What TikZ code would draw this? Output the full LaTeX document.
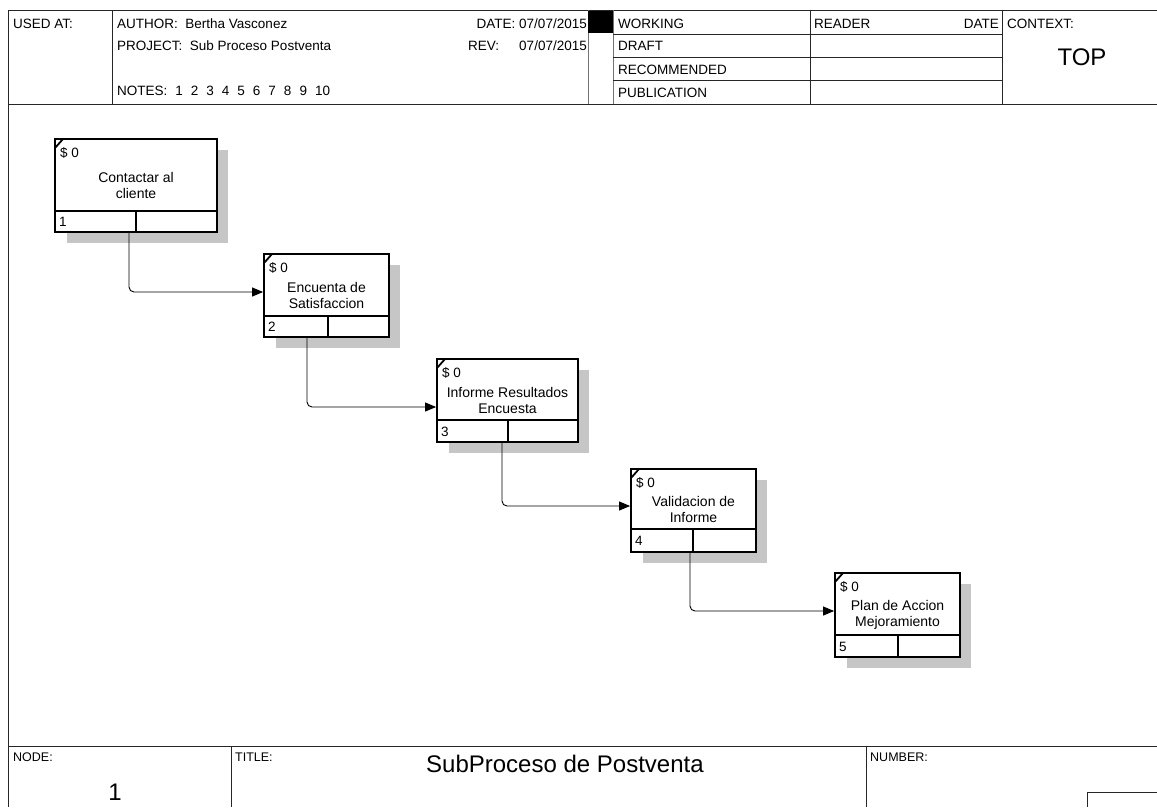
\documentclass[tikz,border=0pt]{standalone}
\usepackage{fontspec}
\setmainfont{Liberation Sans}
\usetikzlibrary{arrows.meta,fit}

\tikzset{
  frame/.style={line width=1pt, draw=black!85},
  thinframe/.style={line width=0.9pt, draw=black!55},
  abox/.style={draw, line width=1.8pt, inner sep=0pt, fill=white},
  aline/.style={line width=1.8pt},
  shade/.style={fill=gray!45},
  hdr/.style={font=\fontsize{13.5}{15}\selectfont, inner sep=0pt, anchor=base west},
  hdre/.style={font=\fontsize{13.5}{15}\selectfont, inner sep=0pt, anchor=base east},
  ftr/.style={font=\fontsize{12.5}{14}\selectfont, inner sep=0pt, anchor=base west},
  boxtxt/.style={font=\fontsize{14}{16}\selectfont, align=center, inner sep=0pt},
  btxt/.style={font=\fontsize{13.5}{15}\selectfont, inner sep=0pt, anchor=base west},
  conn/.style={line width=0.9pt, rounded corners=5pt, -{Triangle[length=11pt,width=9pt]}},
}

% name, left, top, right, bottom, lineY, dividerX, text, number
\newcommand\idefbox[9]{%
  \fill[shade] ({#2+12},{#3+11}) rectangle ({#4+11},{#5+11});
  \coordinate (#1nw) at (#2,#3);
  \coordinate (#1se) at (#4,#5);
  \node[abox, fit=(#1nw)(#1se)] (#1) {};
  \draw[aline] (#2,#6) -- (#4,#6);
  \draw[aline] (#7,#6) -- (#7,#5);
  \draw[aline] (#2,{#3+9}) -- ({#2+8},#3);
  \node[boxtxt] (#1t) at ({(#2+#4)/2},{(#3+#6)/2+10.5}) {#8};
  \node[btxt] (#1c) at ({#2+5},{#3+18}) {\$ 0};
  \node[btxt] (#1n) at ({#2+4},{(#6+#5)/2+5}) {#9};
}

\begin{document}
\begin{tikzpicture}[x=1pt,y=-1pt]
\useasboundingbox (0,0) rectangle (1157,807);
\fill[white] (0,0) rectangle (1157,807);

% ---------- header frame ----------
\draw[frame] (8,10) -- (1157,10);
\draw[frame] (8,104) -- (1157,104);
\draw[frame] (8,10) -- (8,807);
\draw[frame] (112,10) -- (112,104);
\draw[thinframe] (588,10) -- (588,104);
\draw[thinframe, line width=1.6pt] (613.5,10) -- (613.5,104);
\draw[frame] (810,10) -- (810,104);
\draw[frame] (1002,10) -- (1002,104);
\draw[frame] (613,34) -- (1002,34);
\draw[frame] (613,57) -- (1002,57);
\draw[frame] (613,80) -- (1002,80);
\fill[black] (588,11) rectangle (613,33);

% ---------- header texts ----------
\node[hdr] (usedat) at (13,28) {USED AT:};
\node[hdr] (author) at (117,28) {AUTHOR:\ \ Bertha Vasconez};
\node[hdr] (project) at (117,50) {PROJECT:\ \ Sub Proceso Postventa};
\node[hdr] (notes) at (117,95) {NOTES:\hspace{8pt}1\hspace{8pt}2\hspace{8pt}3\hspace{8pt}4\hspace{8pt}5\hspace{8pt}6\hspace{8pt}7\hspace{8pt}8\hspace{8pt}9\hspace{8pt}10};
\node[hdre] (date) at (587,28) {DATE: 07/07/2015};
\node[hdr] (rev) at (468,50) {REV:};
\node[hdre] (revdate) at (587,50) {07/07/2015};
\node[hdr] (working) at (618,28) {WORKING};
\node[hdr] (draft) at (618,50) {DRAFT};
\node[hdr] (recom) at (618,74) {RECOMMENDED};
\node[hdr] (publ) at (618,97) {PUBLICATION};
\node[hdr] (reader) at (814,28) {READER};
\node[hdre] (rdate) at (999,28) {DATE};
\node[hdr] (context) at (1007,28) {CONTEXT:};
\node[font=\fontsize{24}{26}\selectfont, inner sep=0pt, anchor=base] (top) at (1082,65) {TOP};

% ---------- footer ----------
\draw[frame] (8,746) -- (1157,746);
\draw[frame] (231,746) -- (231,807);
\draw[frame] (866,746) -- (866,807);
\draw[frame] (1087,807) -- (1087,792) -- (1157,792);
\node[ftr] (nodelbl) at (13,761) {NODE:};
\node[ftr] (titlelbl) at (235,761) {TITLE:};
\node[ftr] (numberlbl) at (870,761) {NUMBER:};
\node[font=\fontsize{24}{26}\selectfont, inner sep=0pt, anchor=base] (nodenum) at (115,800) {1};
\node[font=\fontsize{24}{26}\selectfont, inner sep=0pt, anchor=base west] (title) at (426,772) {SubProceso de Postventa};

% ---------- activity boxes ----------
\idefbox{b1}{55}{139}{217}{232}{211}{136}{Contactar al\\cliente}{1}
\idefbox{b2}{264}{254}{389}{337}{316}{328}{Encuenta de\\Satisfaccion}{2}
\idefbox{b3}{437}{359}{578}{442}{420}{508}{Informe Resultados\\Encuesta}{3}
\idefbox{b4}{631}{469}{756}{552}{529}{693}{Validacion de\\Informe}{4}
\idefbox{b5}{835}{573}{960}{657}{635}{898}{Plan de Accion\\Mejoramiento}{5}

% ---------- connectors ----------
\draw[conn] ([xshift=-7pt]b1.south) |- ([yshift=3.5pt]b2.west);
\draw[conn] ([xshift=-19.5pt]b2.south) |- ([yshift=-6.5pt]b3.west);
\draw[conn] ([xshift=-5.5pt]b3.south) |- ([yshift=4.5pt]b4.west);
\draw[conn] ([xshift=-3.5pt]b4.south) |- ([yshift=4pt]b5.west);
\end{tikzpicture}
\end{document}
